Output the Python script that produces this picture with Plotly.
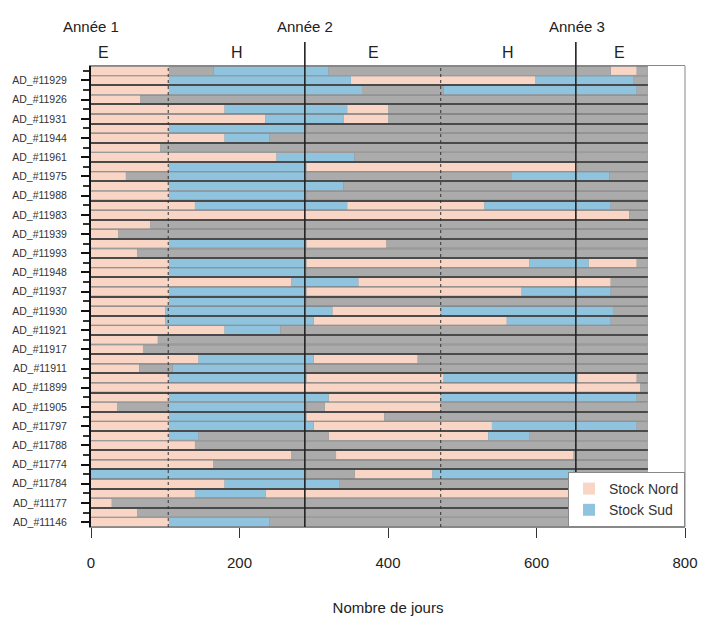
import plotly.graph_objects as go

# ---------------- data ----------------
# tick labels shown on the y axis (every other bar, top to bottom)
ids = ["AD_#11929", "AD_#11926", "AD_#11931", "AD_#11944", "AD_#11961", "AD_#11975",
       "AD_#11988", "AD_#11983", "AD_#11939", "AD_#11993", "AD_#11948", "AD_#11937",
       "AD_#11930", "AD_#11921", "AD_#11917", "AD_#11911", "AD_#11899", "AD_#11905",
       "AD_#11797", "AD_#11788", "AD_#11774", "AD_#11784", "AD_#11177", "AD_#11146"]

# state runs per bar, top to bottom: state letter + day at which the run ends
# N = Stock Nord, S = Stock Sud, U = non attribué
row_runs = [
    "N105 U165 S320 U700 N735 U750",
    "N105 S350 N598 S730 U750",
    "N105 S365 U475 S735 U750",
    "N66 U750",
    "N180 S345 N400 U750",
    "N235 S340 N400 U750",
    "N105 S290 U750",
    "N180 S240 U750",
    "N93 U750",
    "N250 S355 U750",
    "N105 S290 N655 U750",
    "N47 U105 S290 U567 S698 U750",
    "N105 S340 U750",
    "N105 S290 U750",
    "N140 S345 N530 S700 U750",
    "N725 U750",
    "N80 U750",
    "N37 U750",
    "N105 S290 N398 U750",
    "N62 U750",
    "N105 S290 N590 S670 N735 U750",
    "N105 S290 U750",
    "N270 S360 N700 U750",
    "N105 S290 N580 S700 U750",
    "N105 S290 U750",
    "N100 S325 N471 S703 U750",
    "N100 S300 N560 S700 U750",
    "N180 S255 U750",
    "N90 U750",
    "N70 U750",
    "N145 S300 N440 U750",
    "N65 U110 S290 U750",
    "N105 S290 N475 S655 N735 U750",
    "N740 U750",
    "N105 S320 N471 S735 U750",
    "N35 U105 S290 U315 N471 U750",
    "N105 S290 N395 U750",
    "N105 S300 N540 S735 U750",
    "N105 S145 U320 N535 S590 U750",
    "N140 U750",
    "N270 U330 N650 U750",
    "N165 U750",
    "S290 U355 N460 S650 U750",
    "N180 S335 U750",
    "N140 S235 N645 U750",
    "N28 U750",
    "N62 U750",
    "N105 S240 U750",
]

season_breaks = [104, 471]      # été -> hiver
year_starts = [288, 653]        # début d'année
year_labels = ["Année 1", "Année 2", "Année 3"]
year_label_x = [0, 288, 655]
season_labels = ["E", "H", "E", "H", "E"]
season_label_x = [17, 196, 380, 562, 712]

state_names = {"N": "Stock Nord", "S": "Stock Sud", "U": "Non attribué"}
state_colors = {"N": "#F8D5C5", "S": "#90C4DE", "U": "#ABABAB"}

# ---------------- build ----------------
n = len(row_runs)
ys = list(range(n, 0, -1))
segs = {c: {"y": [], "base": [], "x": []} for c in "NSU"}
totals = []
for y, runs in zip(ys, row_runs):
    start = 0
    for tok in runs.split():
        c, end = tok[0], int(tok[1:])
        segs[c]["y"].append(y)
        segs[c]["base"].append(start)
        segs[c]["x"].append(end - start)
        start = end
    totals.append(start)

fig = go.Figure()
# thin separators between every bar
fig.add_trace(go.Bar(y=ys, x=totals, base=0, orientation="h", width=1.0,
                     marker=dict(color="#7a7a7a", line=dict(width=0)),
                     showlegend=False, hoverinfo="skip"))
for c in "NSU":
    fig.add_trace(go.Bar(y=segs[c]["y"], x=segs[c]["x"], base=segs[c]["base"],
                         orientation="h", width=0.86, name=state_names[c],
                         marker=dict(color=state_colors[c], line=dict(width=0)),
                         showlegend=(c != "U")))
# darker separators between pairs of bars
pair_bounds = [b + 0.5 for b in range(2, n, 2)]
fig.add_trace(go.Bar(y=pair_bounds, x=[max(totals)] * len(pair_bounds), base=0,
                     orientation="h", width=0.12,
                     marker=dict(color="#4a4a4a", line=dict(width=0)),
                     showlegend=False, hoverinfo="skip"))

shapes = []
for xb in season_breaks:
    shapes.append(dict(type="line", xref="x", yref="paper", x0=xb, x1=xb, y0=0, y1=1,
                       line=dict(color="#333333", width=1, dash="dot")))
for xy in year_starts:
    shapes.append(dict(type="line", xref="x", yref="paper", x0=xy, x1=xy, y0=0, y1=1.052,
                       line=dict(color="#222222", width=1.6)))
# right frame edge
shapes.append(dict(type="line", xref="paper", yref="paper", x0=1, x1=1, y0=0, y1=1,
                   line=dict(color="#888888", width=1)))

annotations = []
for t, xv in zip(year_labels, year_label_x):
    annotations.append(dict(text=t, x=xv, y=1.0846, xref="x", yref="paper",
                            showarrow=False, yanchor="middle",
                            font=dict(size=15, color="#222222")))
for t, xv in zip(season_labels, season_label_x):
    annotations.append(dict(text=t, x=xv, y=1.029, xref="x", yref="paper",
                            showarrow=False, yanchor="middle",
                            font=dict(size=16, color="#222222")))

label_rows = [n - 1 - 2 * k for k in range(len(ids))]

fig.update_layout(
    width=704, height=619,
    margin=dict(l=91, r=19, t=66, b=92),
    paper_bgcolor="white", plot_bgcolor="white",
    barmode="overlay",
    font=dict(family="Liberation Sans, Arial, sans-serif", color="#222222"),
    shapes=shapes, annotations=annotations,
    legend=dict(x=1.0, xanchor="right", y=0, yanchor="bottom",
                bgcolor="white", bordercolor="#888888", borderwidth=1,
                font=dict(size=14, color="#333333"), traceorder="normal",
                itemwidth=30),
    xaxis=dict(range=[0, 800], tickvals=[0, 200, 400, 600, 800],
               ticks="outside", ticklen=10, tickcolor="#333333",
               showline=True, mirror=True, linecolor="#888888", linewidth=1,
               showgrid=False, zeroline=False, ticklabelstandoff=12,
               automargin=False,
               tickfont=dict(size=15, color="#222222"),
               title=dict(text="Nombre de jours", font=dict(size=15, color="#222222"),
                          standoff=32)),
    yaxis=dict(range=[0.5, n + 0.5], tickvals=label_rows, ticktext=ids,
               ticks="outside", ticklen=8, tickwidth=1.5, tickcolor="#111111",
               minor=dict(ticks="outside", ticklen=6, tickcolor="#333333",
                          tick0=0, dtick=1),
               showline=True, linecolor="#111111", linewidth=2,
               showgrid=False, zeroline=False, ticklabelstandoff=12,
               automargin=False,
               tickfont=dict(size=10.5, color="#333333")),
)

fig.write_html("out.html")
